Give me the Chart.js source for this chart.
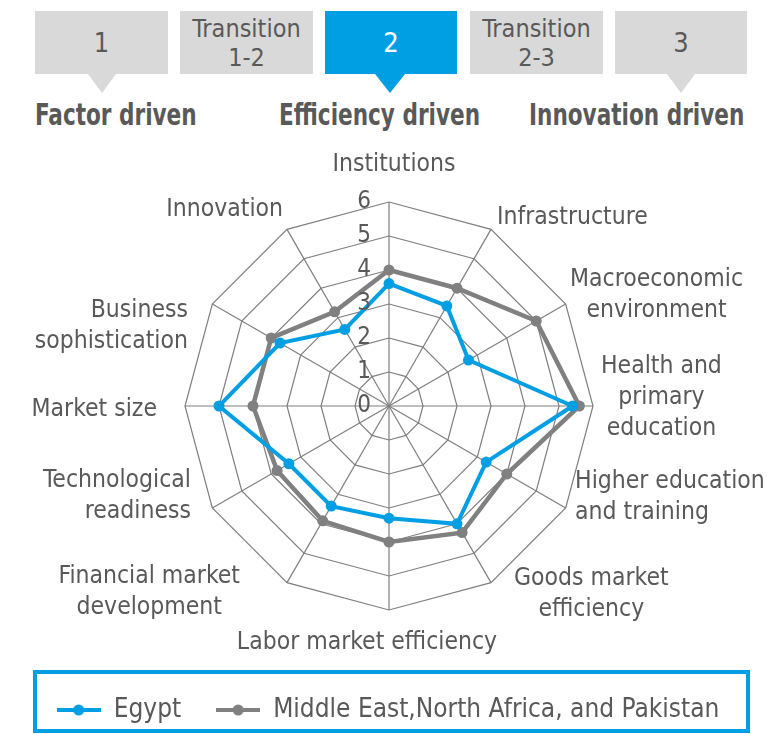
<!DOCTYPE html>
<html>
<head>
<meta charset="utf-8">
<script src="https://cdn.jsdelivr.net/npm/chart.js@4/dist/chart.umd.min.js"></script>
<style>
  body { margin: 0; background: #fff; font-family: "DejaVu Sans Condensed", "DejaVu Sans", sans-serif; }
  #wrap { position: relative; width: 776px; height: 734px; overflow: hidden; }
  #chart { position: absolute; left: 0; top: 0; }
  .box { position: absolute; top: 11px; height: 63px; background: #d9d9d9; color: #595959;
         display: flex; align-items: center; justify-content: center; text-align: center;
         font-size: 25px; line-height: 29px; }
  .box.big { font-size: 27px; }
  .box.on { background: #009fe3; color: #fff; }
  .tri { position: absolute; top: 74px; width: 0; height: 0; border-left: 14px solid transparent;
         border-right: 14px solid transparent; border-top: 19px solid #d9d9d9; }
  .tri.on { border-top-color: #009fe3; border-left-width: 15px; border-right-width: 15px; }
  .stage { position: absolute; top: 98px; font-size: 24px; font-weight: bold; color: #595959;
           transform: scaleY(1.22); transform-origin: 0 0; }
</style>
</head>
<body>
<div id="wrap">
  <div class="box big" style="left:35px;width:133px">1</div>
  <div class="box" style="left:180px;width:133px">Transition<br>1-2</div>
  <div class="box big on" style="left:325px;width:132px">2</div>
  <div class="box" style="left:470px;width:133px">Transition<br>2-3</div>
  <div class="box big" style="left:615px;width:132px">3</div>
  <div class="tri" style="left:88px"></div>
  <div class="tri on" style="left:375px"></div>
  <div class="tri" style="left:667px"></div>
  <div class="stage" style="left:35px">Factor driven</div>
  <div class="stage" style="left:279px">Efficiency driven</div>
  <div class="stage" style="left:529px">Innovation driven</div>
  <canvas id="chart" width="776" height="734"></canvas>
</div>
<script>
const categories = [
  'Institutions', 'Infrastructure', ['Macroeconomic', 'environment'], ['Health and', 'primary', 'education'],
  ['Higher education', 'and training'], ['Goods market', 'efficiency'], 'Labor market efficiency',
  ['Financial market', 'development'], ['Technological', 'readiness'], 'Market size',
  ['Business', 'sophistication'], 'Innovation'
];
const egypt = [3.6, 3.4, 2.7, 5.4, 3.3, 4.0, 3.3, 3.4, 3.4, 5.0, 3.7, 2.6];
const menap = [4.0, 4.0, 5.0, 5.6, 4.0, 4.3, 4.0, 3.9, 3.8, 4.0, 4.0, 3.2];
const tickValues = [0, 1, 2, 3, 4, 5, 6];

const FONT = '"DejaVu Sans Condensed", "DejaVu Sans", sans-serif';
const TEXT = '#595959';
const BLUE = '#009fe3';
const GREY = '#808080';

// how each category label sits next to its spoke: block anchor, line alignment, nudge
const labelStyle = [
  ['center', 'center', 5, -25],
  ['left', 'left', 0, -1],
  ['left', 'center', -6, -3],
  ['left', 'center', -4, -8],
  ['left', 'left', -1, -17],
  ['left', 'center', 17, 1],
  ['center', 'center', -22, 21],
  ['right', 'center', -41, -1],
  ['right', 'right', -11, -18],
  ['right', 'right', -16, 4],
  ['right', 'right', -14, 28],
  ['right', 'right', 2, -9]
];

function legendMark(color) {
  const c = document.createElement('canvas');
  c.width = 44; c.height = 14;
  const g = c.getContext('2d');
  g.strokeStyle = color; g.lineWidth = 4;
  g.beginPath(); g.moveTo(0, 7); g.lineTo(44, 7); g.stroke();
  g.fillStyle = color;
  g.beginPath(); g.arc(22, 7, 5.5, 0, Math.PI * 2); g.fill();
  return c;
}

const radarText = {
  id: 'radarText',
  afterDraw(chart) {
    const s = chart.scales.r, ctx = chart.ctx;
    ctx.save();
    ctx.fillStyle = TEXT;
    ctx.textBaseline = 'middle';

    // scale numbers, left of the vertical spoke
    ctx.font = '24px ' + FONT;
    ctx.textAlign = 'right';
    tickValues.forEach(v => {
      ctx.fillText(String(v), s.xCenter - 18, s.yCenter - s.getDistanceFromCenterForValue(v));
    });

    // category labels
    ctx.font = '24.5px ' + FONT;
    const lh = 31;
    categories.forEach((lab, i) => {
      const lines = Array.isArray(lab) ? lab : [lab];
      const [anchor, lineAlign, dx, dy] = labelStyle[i];
      const p = s.getPointPosition(i, s.drawingArea + 12);
      const w = Math.max(...lines.map(t => ctx.measureText(t).width));
      let left = p.x + dx;
      if (anchor === 'center') left -= w / 2;
      if (anchor === 'right') left -= w;
      const mid = p.y + dy;
      lines.forEach((t, k) => {
        const y = mid + (k - (lines.length - 1) / 2) * lh;
        let x = left;
        ctx.textAlign = lineAlign;
        if (lineAlign === 'center') x = left + w / 2;
        if (lineAlign === 'right') x = left + w;
        ctx.fillText(t, x, y);
      });
    });
    ctx.restore();
  }
};

const legendBorder = {
  id: 'legendBorder',
  afterDraw(chart) {
    const ctx = chart.ctx;
    ctx.save();
    ctx.strokeStyle = BLUE; ctx.lineWidth = 4;
    ctx.strokeRect(35, 672, 713, 59);
    ctx.restore();
  }
};

new Chart(document.getElementById('chart'), {
  type: 'radar',
  data: {
    labels: categories,
    datasets: [{
      label: 'Egypt',
      data: egypt,
      borderColor: BLUE,
      backgroundColor: BLUE,
      pointBackgroundColor: BLUE,
      pointBorderWidth: 0,
      borderWidth: 4,
      pointRadius: 5.5,
      fill: false
    }, {
      label: 'Middle East,North Africa, and Pakistan',
      data: menap,
      borderColor: GREY,
      backgroundColor: GREY,
      pointBackgroundColor: GREY,
      pointBorderWidth: 0,
      borderWidth: 4.5,
      pointRadius: 5.5,
      fill: false
    }]
  },
  options: {
    responsive: false,
    animation: false,
    layout: { padding: { top: 140, bottom: 1 } },
    plugins: {
      tooltip: { enabled: false },
      legend: {
        position: 'bottom',
        labels: {
          usePointStyle: true,
          pointStyleWidth: 44,
          padding: 35,
          color: TEXT,
          font: { family: FONT, size: 26 },
          generateLabels(chart) {
            return chart.data.datasets.map((d, i) => ({
              text: d.label,
              pointStyle: legendMark(d.borderColor),
              fillStyle: d.borderColor,
              strokeStyle: d.borderColor,
              lineWidth: 0,
              fontColor: TEXT,
              hidden: false,
              datasetIndex: i
            }));
          }
        }
      }
    },
    scales: {
      r: {
        min: 0,
        max: 6,
        ticks: { stepSize: 1, display: false },
        grid: { circular: false, color: '#7f7f7f', lineWidth: 1.2 },
        angleLines: { color: '#7f7f7f', lineWidth: 1.2 },
        pointLabels: { display: false },
        // the reference puts the web's centre at (389, 406) with a 204px radius
        afterFit(scale) {
          scale.xCenter = 389;
          scale.yCenter = 406;
          scale.drawingArea = 204;
        }
      }
    }
  },
  plugins: [radarText, legendBorder]
});
</script>
</body>
</html>
